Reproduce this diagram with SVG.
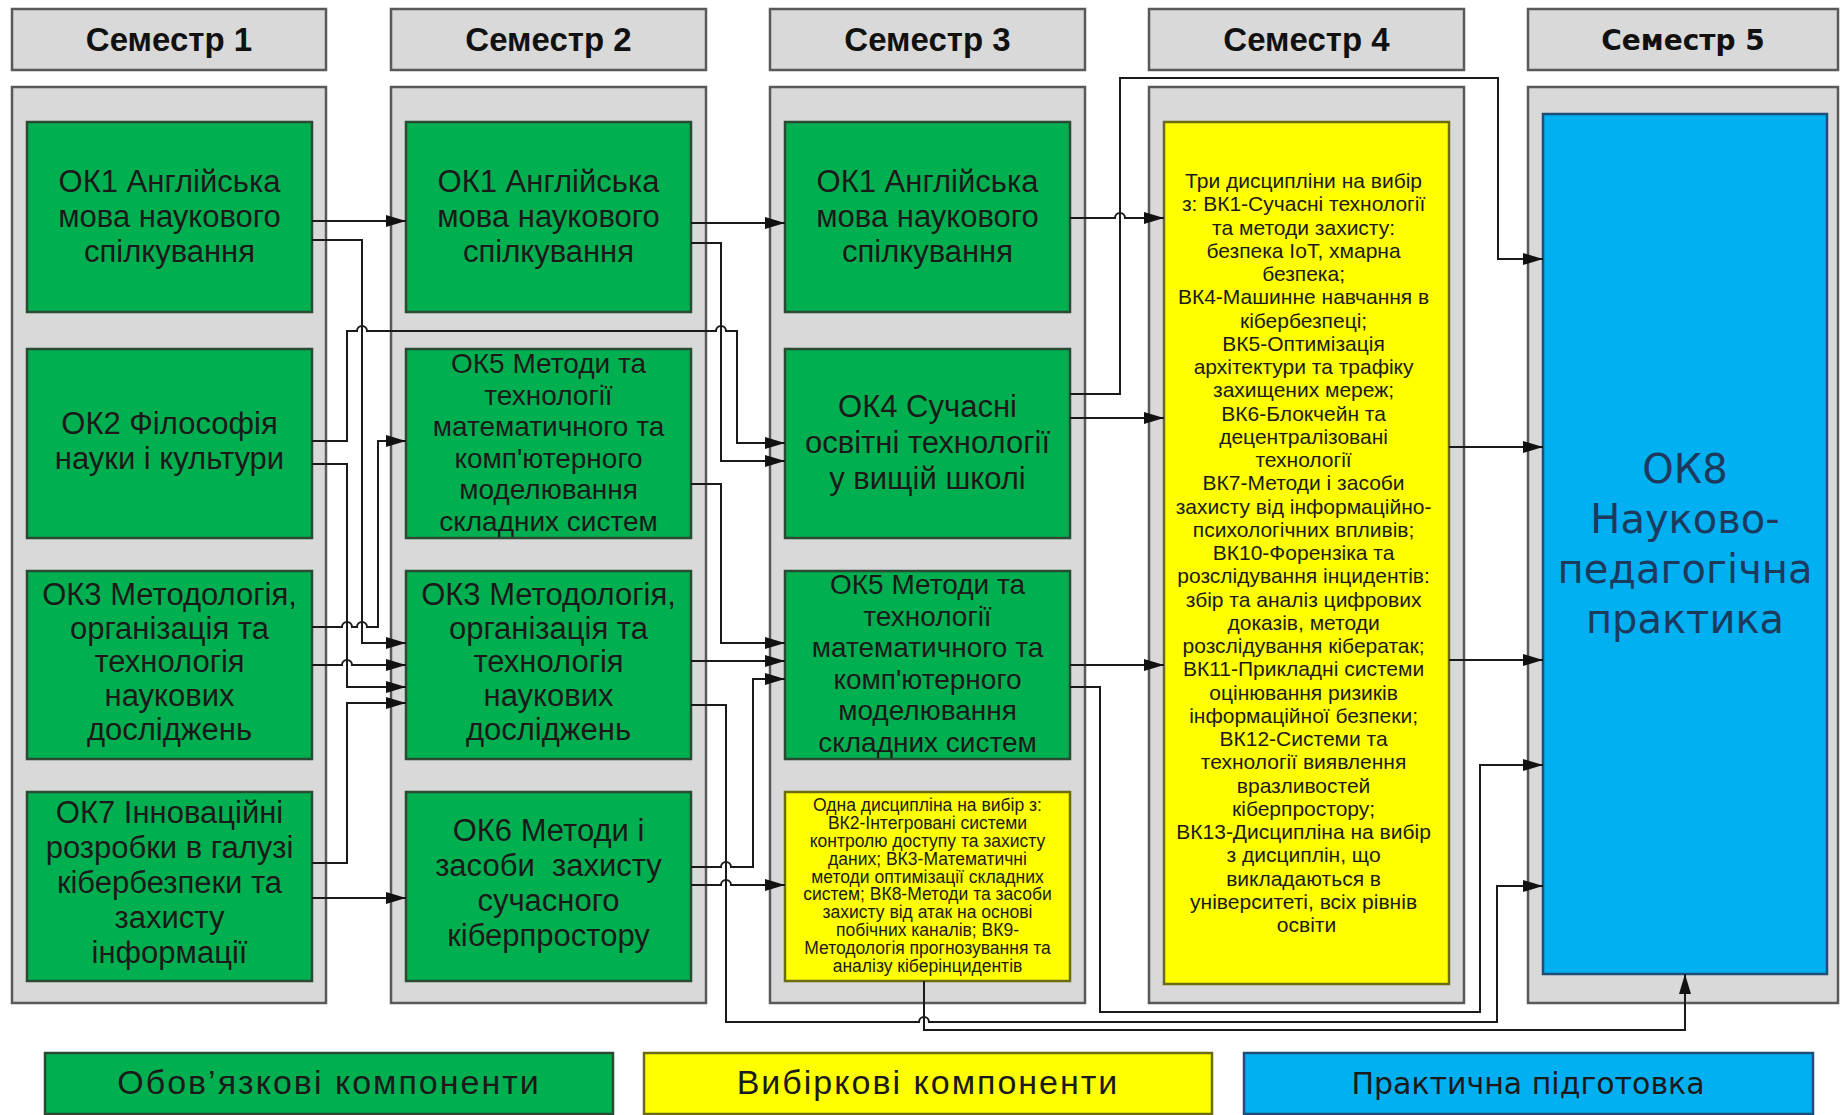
<svg xmlns="http://www.w3.org/2000/svg" width="1840" height="1115" viewBox="0 0 1840 1115">
<style>
.bg{fill:#ffffff}
.hdr{fill:#d9d9d9;stroke:#595959;stroke-width:2.5}
.pnl{fill:#d9d9d9;stroke:#595959;stroke-width:2.5}
.g{fill:#00b050;stroke:#2b4a33;stroke-width:2.5}
.y{fill:#ffff00;stroke:#6b6b10;stroke-width:2.5}
.b{fill:#00b0f0;stroke:#1f4e79;stroke-width:2.5}
.ht{font-family:"Liberation Sans",Arial,sans-serif;font-weight:bold;font-size:33px;fill:#111;text-anchor:middle}
.ht5{font-family:"DejaVu Sans",sans-serif;font-weight:bold;font-size:28px;fill:#111;text-anchor:middle}
.gt{font-family:"Liberation Sans",Arial,sans-serif;font-size:31px;fill:#1a1a1a;text-anchor:middle}
.gt6{font-family:"Liberation Sans",Arial,sans-serif;font-size:28px;fill:#1a1a1a;text-anchor:middle}
.st{font-family:"Liberation Sans",Arial,sans-serif;font-size:17.5px;fill:#1a1a1a;text-anchor:middle}
.yt{font-family:"Liberation Sans",Arial,sans-serif;font-size:21px;fill:#1a1a1a;text-anchor:middle}
.bt{font-family:"DejaVu Sans",sans-serif;font-size:40px;fill:#1c3a5e;text-anchor:middle}
.lt{font-family:"Liberation Sans",Arial,sans-serif;font-size:34px;letter-spacing:2px;fill:#1a1a1a;text-anchor:middle}
.lt3{font-family:"DejaVu Sans",sans-serif;font-size:30px;fill:#1a1a1a;text-anchor:middle}
.c{fill:none;stroke:#1a1a1a;stroke-width:2}
.a{marker-end:url(#arr)}
</style>
<defs>
<marker id="arr" markerUnits="userSpaceOnUse" markerWidth="20" markerHeight="12" refX="20" refY="6" orient="auto">
<path d="M0,0 L20,6 L0,12 z" fill="#111"/>
</marker>
</defs>
<rect class="bg" x="0" y="0" width="1840" height="1115"/>

<g id="headers">
<rect class="hdr" x="12" y="9" width="314" height="61"/>
<text class="ht" x="169" y="51">Семестр 1</text>
<rect class="hdr" x="391" y="9" width="315" height="61"/>
<text class="ht" x="548.5" y="51">Семестр 2</text>
<rect class="hdr" x="770" y="9" width="315" height="61"/>
<text class="ht" x="927.5" y="51">Семестр 3</text>
<rect class="hdr" x="1149" y="9" width="315" height="61"/>
<text class="ht" x="1306.5" y="51">Семестр 4</text>
<rect class="hdr" x="1528" y="9" width="310" height="61"/>
<text class="ht5" x="1683" y="50">Семестр 5</text>
</g>

<g id="panels">
<rect class="pnl" x="12" y="87" width="314" height="916"/>
<rect class="pnl" x="391" y="87" width="315" height="916"/>
<rect class="pnl" x="770" y="87" width="315" height="916"/>
<rect class="pnl" x="1149" y="87" width="315" height="916"/>
<rect class="pnl" x="1528" y="87" width="310" height="916"/>
</g>

<g id="s1-ok1">
<rect class="g" x="27" y="122" width="285" height="190"/>
<text class="gt"><tspan x="169.5" y="192">ОК1 Англійська</tspan><tspan x="169.5" y="227">мова наукового</tspan><tspan x="169.5" y="262">спілкування</tspan></text>
</g>
<g id="s1-ok2">
<rect class="g" x="27" y="349" width="285" height="189"/>
<text class="gt"><tspan x="169.5" y="434">ОК2 Філософія</tspan><tspan x="169.5" y="469">науки і культури</tspan></text>
</g>
<g id="s1-ok3">
<rect class="g" x="27" y="571" width="285" height="188"/>
<text class="gt"><tspan x="169.5" y="605">ОК3 Методологія,</tspan><tspan x="169.5" y="639">організація та</tspan><tspan x="169.5" y="672">технологія</tspan><tspan x="169.5" y="706">наукових</tspan><tspan x="169.5" y="740">досліджень</tspan></text>
</g>
<g id="s1-ok7">
<rect class="g" x="27" y="792" width="285" height="189"/>
<text class="gt"><tspan x="169.5" y="823">ОК7 Інноваційні</tspan><tspan x="169.5" y="858">розробки в галузі</tspan><tspan x="169.5" y="893">кібербезпеки та</tspan><tspan x="169.5" y="928">захисту</tspan><tspan x="169.5" y="963">інформації</tspan></text>
</g>

<g id="s2-ok1">
<rect class="g" x="406" y="122" width="285" height="190"/>
<text class="gt"><tspan x="548.5" y="192">ОК1 Англійська</tspan><tspan x="548.5" y="227">мова наукового</tspan><tspan x="548.5" y="262">спілкування</tspan></text>
</g>
<g id="s2-ok5">
<rect class="g" x="406" y="349" width="285" height="189"/>
<text class="gt6"><tspan x="548.5" y="373">ОК5 Методи та</tspan><tspan x="548.5" y="404.5">технології</tspan><tspan x="548.5" y="436">математичного та</tspan><tspan x="548.5" y="467.5">комп'ютерного</tspan><tspan x="548.5" y="499">моделювання</tspan><tspan x="548.5" y="530.5">складних систем</tspan></text>
</g>
<g id="s2-ok3">
<rect class="g" x="406" y="571" width="285" height="188"/>
<text class="gt"><tspan x="548.5" y="605">ОК3 Методологія,</tspan><tspan x="548.5" y="639">організація та</tspan><tspan x="548.5" y="672">технологія</tspan><tspan x="548.5" y="706">наукових</tspan><tspan x="548.5" y="740">досліджень</tspan></text>
</g>
<g id="s2-ok6">
<rect class="g" x="406" y="792" width="285" height="189"/>
<text class="gt" xml:space="preserve"><tspan x="548.5" y="841">ОК6 Методи і</tspan><tspan x="548.5" y="876">засоби  захисту</tspan><tspan x="548.5" y="911">сучасного</tspan><tspan x="548.5" y="946">кіберпростору</tspan></text>
</g>

<g id="s3-ok1">
<rect class="g" x="785" y="122" width="285" height="190"/>
<text class="gt"><tspan x="927.5" y="192">ОК1 Англійська</tspan><tspan x="927.5" y="227">мова наукового</tspan><tspan x="927.5" y="262">спілкування</tspan></text>
</g>
<g id="s3-ok4">
<rect class="g" x="785" y="349" width="285" height="189"/>
<text class="gt"><tspan x="927.5" y="417">ОК4 Сучасні</tspan><tspan x="927.5" y="453">освітні технології</tspan><tspan x="927.5" y="489">у вищій школі</tspan></text>
</g>
<g id="s3-ok5">
<rect class="g" x="785" y="571" width="285" height="188"/>
<text class="gt6"><tspan x="927.5" y="594">ОК5 Методи та</tspan><tspan x="927.5" y="625.6">технології</tspan><tspan x="927.5" y="657.2">математичного та</tspan><tspan x="927.5" y="688.8">комп'ютерного</tspan><tspan x="927.5" y="720.4">моделювання</tspan><tspan x="927.5" y="752">складних систем</tspan></text>
</g>
<g id="s3-vk">
<rect class="y" x="785" y="792" width="285" height="189"/>
<text class="st"><tspan x="927.5" y="811">Одна дисципліна на вибір з:</tspan><tspan x="927.5" y="829">ВК2-Інтегровані системи</tspan><tspan x="927.5" y="847">контролю доступу та захисту</tspan><tspan x="927.5" y="865">даних; ВК3-Математичні</tspan><tspan x="927.5" y="883">методи оптимізації складних</tspan><tspan x="927.5" y="900">систем; ВК8-Методи та засоби</tspan><tspan x="927.5" y="918">захисту від атак на основі</tspan><tspan x="927.5" y="936">побічних каналів; ВК9-</tspan><tspan x="927.5" y="954">Методологія прогнозування та</tspan><tspan x="927.5" y="972">аналізу кіберінцидентів</tspan></text>
</g>

<g id="s4-vk">
<rect class="y" x="1164" y="122" width="285" height="862"/>
<text class="yt">
<tspan x="1306.5" y="188">Три дисципліни на вибір</tspan>
<tspan x="1306.5" y="211.25">з: ВК1-Сучасні технології</tspan>
<tspan x="1306.5" y="234.5">та методи захисту:</tspan>
<tspan x="1306.5" y="257.75">безпека IoT, хмарна</tspan>
<tspan x="1306.5" y="281">безпека;</tspan>
<tspan x="1306.5" y="304.25">ВК4-Машинне навчання в</tspan>
<tspan x="1306.5" y="327.5">кібербезпеці;</tspan>
<tspan x="1306.5" y="350.75">ВК5-Оптимізація</tspan>
<tspan x="1306.5" y="374">архітектури та трафіку</tspan>
<tspan x="1306.5" y="397.25">захищених мереж;</tspan>
<tspan x="1306.5" y="420.5">ВК6-Блокчейн та</tspan>
<tspan x="1306.5" y="443.75">децентралізовані</tspan>
<tspan x="1306.5" y="467">технології</tspan>
<tspan x="1306.5" y="490.25">ВК7-Методи і засоби</tspan>
<tspan x="1306.5" y="513.5">захисту від інформаційно-</tspan>
<tspan x="1306.5" y="536.75">психологічних впливів;</tspan>
<tspan x="1306.5" y="560">ВК10-Форензіка та</tspan>
<tspan x="1306.5" y="583.25">розслідування інцидентів:</tspan>
<tspan x="1306.5" y="606.5">збір та аналіз цифрових</tspan>
<tspan x="1306.5" y="629.75">доказів, методи</tspan>
<tspan x="1306.5" y="653">розслідування кібератак;</tspan>
<tspan x="1306.5" y="676.25">ВК11-Прикладні системи</tspan>
<tspan x="1306.5" y="699.5">оцінювання ризиків</tspan>
<tspan x="1306.5" y="722.75">інформаційної безпеки;</tspan>
<tspan x="1306.5" y="746">ВК12-Системи та</tspan>
<tspan x="1306.5" y="769.25">технології виявлення</tspan>
<tspan x="1306.5" y="792.5">вразливостей</tspan>
<tspan x="1306.5" y="815.75">кіберпростору;</tspan>
<tspan x="1306.5" y="839">ВК13-Дисципліна на вибір</tspan>
<tspan x="1306.5" y="862.25">з дисциплін, що</tspan>
<tspan x="1306.5" y="885.5">викладаються в</tspan>
<tspan x="1306.5" y="908.75">університеті, всіх рівнів</tspan>
<tspan x="1306.5" y="932">освіти</tspan>
</text>
</g>

<g id="s5-ok8">
<rect class="b" x="1543" y="114" width="284" height="860"/>
<text class="bt"><tspan x="1685" y="483">ОК8</tspan><tspan x="1685" y="533">Науково-</tspan><tspan x="1685" y="583">педагогічна</tspan><tspan x="1685" y="633">практика</tspan></text>
</g>

<g id="connectors">
<path class="c a" d="M312,221 H406"/>
<path class="c a" d="M312,240 H362 V643 H406"/>
<path class="c a" d="M312,441 H347 V331 H357 A5,5 0 0 1 367,331 H716 A5,5 0 0 1 726,331 H737 V443 H785"/>
<path class="c a" d="M312,464 H347 V687 H406"/>
<path class="c a" d="M312,627 H342 A5,5 0 0 1 352,627 H357 A5,5 0 0 1 367,627 H378 V441 H406"/>
<path class="c a" d="M312,665 H342 A5,5 0 0 1 352,665 H406"/>
<path class="c a" d="M312,863 H347 V703 H406"/>
<path class="c a" d="M312,898 H406"/>

<path class="c a" d="M691,223 H785"/>
<path class="c a" d="M691,243 H721 V461 H785"/>
<path class="c a" d="M691,484 H721 V643 H785"/>
<path class="c a" d="M691,661 H785"/>
<path class="c a" d="M691,705 H726 V1022 H919 A5,5 0 0 1 929,1022 H1497 V886 H1543"/>
<path class="c a" d="M691,867 H721 A5,5 0 0 1 731,867 H753 V679 H785"/>
<path class="c a" d="M691,885 H721 A5,5 0 0 1 731,885 H785"/>

<path class="c a" d="M1070,218 H1115 A5,5 0 0 1 1125,218 H1164"/>
<path class="c a" d="M1070,394 H1120 V78 H1498 V259 H1543"/>
<path class="c a" d="M1070,418 H1164"/>
<path class="c a" d="M1070,665 H1164"/>
<path class="c a" d="M1070,687 H1100 V1012 H1480 V765 H1543"/>
<path class="c a" d="M924,981 V1030 H1685 V974"/>

<path class="c a" d="M1449,447 H1543"/>
<path class="c a" d="M1449,660 H1543"/>
</g>

<g id="legend-mandatory">
<rect class="g" x="45" y="1053" width="568" height="61"/>
<text class="lt" x="329" y="1094">Обов’язкові компоненти</text>
</g>
<g id="legend-elective">
<rect class="y" x="644" y="1053" width="568" height="61"/>
<text class="lt" x="928" y="1094">Вибіркові компоненти</text>
</g>
<g id="legend-practice">
<rect class="b" x="1244" y="1053" width="569" height="61"/>
<text class="lt3" x="1528" y="1094">Практична підготовка</text>
</g>
</svg>
